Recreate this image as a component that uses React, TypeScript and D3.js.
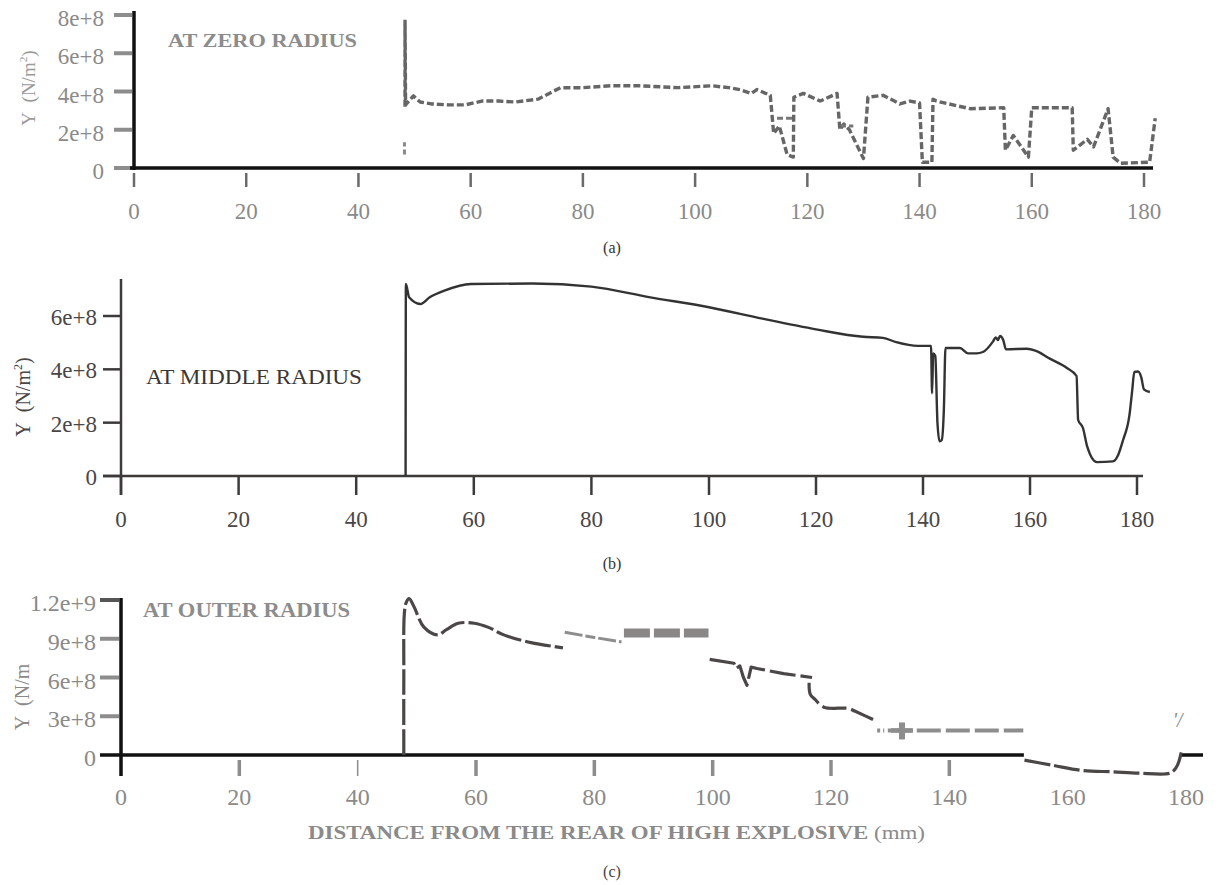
import React, { useRef, useEffect } from 'react';
import * as d3 from 'd3';

// distances along the charge (mm), shared tick values
const xTicks = [0, 20, 40, 60, 80, 100, 120, 140, 160, 180];

// (a) at zero radius - dashed trace
const zeroX = [48.3, 48.3, 48.4, 49.8, 51, 53, 56, 59, 62, 65, 68, 72, 74, 76, 80, 85, 90, 97, 103, 106, 108, 110, 111, 113.4,
  114, 115, 116.4, 117.5, 117.6, 119.3, 122.3, 125.3, 125.8, 126.5, 127.5, 130, 130.8, 133.5, 136.5, 138.3, 140,
  140.5, 142.2, 142.4, 143, 149, 155, 155.3, 156.7, 159.4, 160, 167.2, 167.4, 169.9, 171, 173.6, 174.5, 175.8, 181, 182];
const zeroY = [3.2e8, 7.75e8, 3.3e8, 3.77e8, 3.45e8, 3.35e8, 3.3e8, 3.3e8, 3.5e8, 3.5e8, 3.45e8, 3.6e8, 3.9e8, 4.2e8, 4.2e8, 4.3e8, 4.3e8, 4.2e8, 4.3e8, 4.2e8, 4.1e8, 3.9e8, 4.1e8, 3.8e8,
  1.8e8, 2.2e8, 0.7e8, 0.57e8, 3.7e8, 3.9e8, 3.5e8, 3.9e8, 2.0e8, 2.3e8, 2.0e8, 0.5e8, 3.7e8, 3.8e8, 3.35e8, 3.5e8, 3.4e8,
  0.3e8, 0.3e8, 3.6e8, 3.5e8, 3.1e8, 3.15e8, 0.93e8, 1.7e8, 0.57e8, 3.15e8, 3.15e8, 0.93e8, 1.5e8, 1.1e8, 3.1e8, 0.57e8, 0.25e8, 0.3e8, 2.6e8];
const zeroStrayX = [48.2, 48.2];
const zeroStrayY = [0.7e8, 1.35e8];
const zeroShelfX = [114.6, 117.5];
const zeroShelfY = [2.6e8, 2.6e8];
const zeroShelf2X = [126.0, 128.2];
const zeroShelf2Y = [2.2e8, 2.2e8];
const zeroTicks = [0, 2e8, 4e8, 6e8, 8e8];
const zeroLabels = ['0', '2e+8', '4e+8', '6e+8', '8e+8'];

// (b) at middle radius - solid trace
const middleX = [48.4, 48.45, 49, 50.9, 52.5, 55, 59.5, 70, 80, 90, 100, 110, 120, 128.8, 132.5, 135, 139, 141.5,
  141.7, 141.9, 142.3, 142.7, 143.1, 143.5, 143.9, 144.2, 146.9, 148.4, 150, 151.2, 153.1, 153.6, 154, 154.4, 155, 155.5,
  159.4, 161, 163.7, 166.9, 168.7, 169, 169.9, 170.7, 172.5, 175.5, 176.5, 177.4, 178.6, 179.1, 179.5, 180.2, 180.8, 181.3, 182.4];
const middleY = [0, 7.2e8, 6.7e8, 6.45e8, 6.7e8, 6.95e8, 7.2e8, 7.22e8, 7.1e8, 6.7e8, 6.33e8, 5.9e8, 5.5e8, 5.22e8, 5.18e8, 5.02e8, 4.88e8, 4.88e8,
  3.1e8, 4.6e8, 4.5e8, 2.0e8, 1.3e8, 1.35e8, 2.5e8, 4.8e8, 4.8e8, 4.6e8, 4.6e8, 4.65e8, 5.05e8, 5.2e8, 5.1e8, 5.25e8, 5.1e8, 4.75e8,
  4.77e8, 4.7e8, 4.4e8, 4.05e8, 3.75e8, 2.1e8, 1.8e8, 1.1e8, 0.52e8, 0.55e8, 0.8e8, 1.35e8, 2.3e8, 3.2e8, 3.9e8, 3.92e8, 3.7e8, 3.25e8, 3.15e8];
const middleTicks = [0, 2e8, 4e8, 6e8];
const middleLabels = ['0', '2e+8', '4e+8', '6e+8'];

// (c) at outer radius - broken trace in several pieces
const outerRiseX = [47.8, 47.8, 47.9, 48.2, 48.7, 49.5, 51.2, 53.5, 55, 57, 59.7, 62, 64.7, 69.3, 74.7];
const outerRiseY = [0, 0.6e9, 1.1e9, 1.18e9, 1.21e9, 1.15e9, 0.99e9, 0.93e9, 0.97e9, 1.02e9, 1.02e9, 0.99e9, 0.93e9, 0.87e9, 0.83e9];
const outerGreyX = [75, 80, 84.6];
const outerGreyY = [0.95e9, 0.91e9, 0.875e9];
const outerBlockX = [85, 99.3];
const outerBlockY = [0.945e9, 0.945e9];
const outerMidX = [99.5, 103.6, 104, 104.6, 105.2, 105.8, 106.5, 107.5, 112, 116.8];
const outerMidY = [0.74e9, 0.71e9, 0.67e9, 0.69e9, 0.6e9, 0.54e9, 0.68e9, 0.67e9, 0.63e9, 0.6e9];
const outerStepX = [116.3, 116.5, 117.3, 118.8, 123, 124, 127.8];
const outerStepY = [0.56e9, 0.47e9, 0.43e9, 0.37e9, 0.36e9, 0.34e9, 0.26e9];
const outerStubX = [127.8, 129.0];
const outerStubY = [0.19e9, 0.19e9];
const outerFlatX = [129.6, 152.5];
const outerFlatY = [0.19e9, 0.19e9];
const outerTailX = [152.7, 157.5, 162.5, 167.6, 172, 177.3, 178.3, 178.8, 179.2];
const outerTailY = [-0.04e9, -0.08e9, -0.12e9, -0.13e9, -0.14e9, -0.14e9, -0.1e9, -0.05e9, 0.02e9];
const outerTicks = [0, 3e8, 6e8, 9e8, 1.2e9];
const outerLabels = ['0', '3e+8', '6e+8', '9e+8', '1.2e+9'];

const serif = '"Liberation Serif", "Times New Roman", serif';

function App() {
  const ref = useRef<SVGSVGElement>(null);

  useEffect(() => {
    draw();
  }, []);

  function draw() {
    const svg = d3.select(ref.current);
    svg.selectAll('*').remove();

    svg.append('rect').attr('width', 1221).attr('height', 885).attr('fill', '#fff');

    const line = (g, xs, ys, x, y, stroke, width, dash, curve = d3.curveLinear) => {
      const pts = xs.map((d, i) => [d, ys[i]]);
      return g.append('path')
        .datum(pts)
        .attr('d', d3.line().curve(curve).x(d => x(d[0])).y(d => y(d[1])))
        .attr('fill', 'none')
        .attr('stroke', stroke)
        .attr('stroke-width', width)
        .attr('stroke-dasharray', dash)
        .attr('stroke-linejoin', 'round');
    };

    const text = (g, x, y, s, size, fill, anchor = 'start') =>
      g.append('text')
        .attr('x', x).attr('y', y)
        .attr('font-family', serif)
        .attr('font-size', size)
        .attr('fill', fill)
        .attr('text-anchor', anchor)
        .text(s);

    const yTitle = (g, cx, cy, size, fill, full) => {
      const t = g.append('text')
        .attr('transform', `translate(${cx},${cy}) rotate(-90)`)
        .attr('text-anchor', 'middle')
        .attr('font-family', serif)
        .attr('font-size', size)
        .attr('fill', fill);
      t.append('tspan').text('Y\u00a0\u00a0(N/m');
      if (full) {
        t.append('tspan').attr('font-size', size * 0.6).attr('dy', -size * 0.4).text('2');
        t.append('tspan').attr('dy', size * 0.4).text(')');
      }
    };

    // ---------- (a) zero radius ----------
    const xA = d3.scaleLinear([0, 180], [134, 1144]);
    const yA = d3.scaleLinear([0, 8e8], [168, 15]);
    const a = svg.append('g');

    a.selectAll('.ytick').data(zeroTicks).join('line')
      .attr('x1', 114).attr('x2', 132)
      .attr('y1', d => yA(d)).attr('y2', d => yA(d))
      .attr('stroke', '#8d8d8d').attr('stroke-width', 4);
    a.selectAll('.ylab').data(zeroTicks).join('text')
      .attr('x', 104).attr('y', d => yA(d) + 11)
      .attr('text-anchor', 'end')
      .attr('font-family', serif).attr('font-size', 23).attr('fill', '#8a8a8a')
      .text((d, i) => zeroLabels[i]);
    a.selectAll('.xtick').data(xTicks).join('line')
      .attr('x1', d => xA(d)).attr('x2', d => xA(d))
      .attr('y1', 173).attr('y2', 187)
      .attr('stroke', '#6a6a6a').attr('stroke-width', 2.5);
    a.selectAll('.xlab').data(xTicks).join('text')
      .attr('x', d => xA(d)).attr('y', 219)
      .attr('text-anchor', 'middle')
      .attr('font-family', serif).attr('font-size', 23).attr('fill', '#8a8a8a')
      .text(d => d);
    a.append('line').attr('x1', 134).attr('x2', 134).attr('y1', 11).attr('y2', 170)
      .attr('stroke', '#111').attr('stroke-width', 3.5);
    a.append('line').attr('x1', 130).attr('x2', 1153).attr('y1', yA(0)).attr('y2', yA(0))
      .attr('stroke', '#111').attr('stroke-width', 3.5);

    line(a, zeroX, zeroY, xA, yA, '#666', 3.4, '7,3');
    line(a, zeroStrayX, zeroStrayY, xA, yA, '#8a8a8a', 3, '5,3');
    line(a, zeroShelfX, zeroShelfY, xA, yA, '#777', 3, '6,3');
    line(a, zeroShelf2X, zeroShelf2Y, xA, yA, '#777', 3, '5,3');

    text(a, 168, 47, 'AT ZERO RADIUS', 19, '#8c8c8c').attr('font-weight', 'bold')
      .attr('textLength', 189).attr('lengthAdjust', 'spacingAndGlyphs');
    yTitle(a, 35, 88, 19, '#9a9a9a', true);
    text(a, 612, 253, '(a)', 16, '#333', 'middle');

    // ---------- (b) middle radius ----------
    const xB = d3.scaleLinear([0, 100, 180], [121, 709, 1137]);
    const yB = d3.scaleLinear([0, 6e8], [476, 316]);
    const b = svg.append('g');
    const ink = '#3d3a3a';

    b.selectAll('.ytick').data(middleTicks).join('line')
      .attr('x1', 103).attr('x2', 121)
      .attr('y1', d => yB(d)).attr('y2', d => yB(d))
      .attr('stroke', ink).attr('stroke-width', 2.5);
    b.selectAll('.ylab').data(middleTicks).join('text')
      .attr('x', 97).attr('y', d => yB(d) + 9)
      .attr('text-anchor', 'end')
      .attr('font-family', serif).attr('font-size', 23).attr('fill', '#4a4646')
      .text((d, i) => middleLabels[i]);
    b.selectAll('.xtick').data(xTicks).join('line')
      .attr('x1', d => xB(d)).attr('x2', d => xB(d))
      .attr('y1', 476).attr('y2', 495)
      .attr('stroke', ink).attr('stroke-width', 2.5);
    b.selectAll('.xlab').data(xTicks).join('text')
      .attr('x', d => xB(d)).attr('y', 527)
      .attr('text-anchor', 'middle')
      .attr('font-family', serif).attr('font-size', 23).attr('fill', '#4a4646')
      .text(d => d);
    b.append('line').attr('x1', 121).attr('x2', 121).attr('y1', 279).attr('y2', 495)
      .attr('stroke', ink).attr('stroke-width', 2.5);
    b.append('line').attr('x1', 103).attr('x2', 1143).attr('y1', yB(0)).attr('y2', yB(0))
      .attr('stroke', ink).attr('stroke-width', 2.5);

    line(b, middleX, middleY, xB, yB, '#333', 2.4, null, d3.curveMonotoneX);

    text(b, 146, 384, 'AT MIDDLE RADIUS', 22, '#3a3636')
      .attr('textLength', 216).attr('lengthAdjust', 'spacingAndGlyphs');
    yTitle(b, 30, 397, 20, '#4a4646', true);
    text(b, 612, 569, '(b)', 16, '#333', 'middle');

    // ---------- (c) outer radius ----------
    const xC = d3.scaleLinear([0, 180], [121, 1186]);
    const yC = d3.scaleLinear([0, 1.2e9], [755, 600]);
    const c = svg.append('g');

    c.selectAll('.ytick').data(outerTicks.slice(1)).join('line')
      .attr('x1', 100).attr('x2', 119)
      .attr('y1', d => yC(d)).attr('y2', d => yC(d))
      .attr('stroke', d => (d === 1.2e9 ? '#555' : '#8d8d8d')).attr('stroke-width', 4);
    c.selectAll('.ylab').data(outerTicks).join('text')
      .attr('x', 96).attr('y', d => yC(d) + 11)
      .attr('text-anchor', 'end')
      .attr('font-family', serif).attr('font-size', 24).attr('fill', '#8a8a8a')
      .text((d, i) => outerLabels[i]);
    c.selectAll('.xtick').data(xTicks.filter(d => d > 0 && d < 160)).join('line')
      .attr('x1', d => xC(d)).attr('x2', d => xC(d))
      .attr('y1', 760).attr('y2', 776)
      .attr('stroke', '#8d8d8d').attr('stroke-width', d => (d === 40 ? 1.5 : 3.5));
    c.selectAll('.xlab').data(xTicks).join('text')
      .attr('x', d => xC(d)).attr('y', 805)
      .attr('text-anchor', 'middle')
      .attr('font-family', serif).attr('font-size', 24).attr('fill', '#8a8a8a')
      .text(d => d);
    c.append('line').attr('x1', 121).attr('x2', 121).attr('y1', 598).attr('y2', 776)
      .attr('stroke', '#111').attr('stroke-width', 3.5);
    // axis is hidden where the tail dips below zero
    c.append('line').attr('x1', 100).attr('x2', xC(152.6)).attr('y1', yC(0)).attr('y2', yC(0))
      .attr('stroke', '#111').attr('stroke-width', 3.5);
    c.append('line').attr('x1', xC(179.2)).attr('x2', 1203).attr('y1', yC(0)).attr('y2', yC(0))
      .attr('stroke', '#111').attr('stroke-width', 3.5);

    const dark = '#4b4747';
    line(c, outerRiseX, outerRiseY, xC, yC, dark, 3.2, '26,4', d3.curveCatmullRom.alpha(0.5));
    line(c, outerGreyX, outerGreyY, xC, yC, '#8d8d8d', 3, '18,3,10,3');
    line(c, outerBlockX, outerBlockY, xC, yC, '#8a8787', 9, '26,4');
    line(c, outerMidX, outerMidY, xC, yC, dark, 3.2, '26,5');
    line(c, outerStepX, outerStepY, xC, yC, dark, 3.2, '24,5', d3.curveCatmullRom.alpha(0.5));
    line(c, outerStubX, outerStubY, xC, yC, '#8d8d8d', 4, '3,3');
    line(c, outerFlatX, outerFlatY, xC, yC, '#8d8d8d', 4, '24,5');
    line(c, outerTailX, outerTailY, xC, yC, dark, 3.2, '26,4', d3.curveCatmullRom.alpha(0.5));

    // plus marker sitting on the flat grey piece
    const px = xC(132), py = yC(0.19e9);
    c.append('line').attr('x1', px - 11).attr('x2', px + 11).attr('y1', py).attr('y2', py)
      .attr('stroke', '#8d8d8d').attr('stroke-width', 4.5);
    c.append('line').attr('x1', px).attr('x2', px).attr('y1', py - 8).attr('y2', py + 9)
      .attr('stroke', '#8d8d8d').attr('stroke-width', 6);
    text(c, xC(178.6), 727, "'/", 20, '#8a8a8a', 'middle').attr('font-style', 'italic');

    text(c, 143, 617, 'AT OUTER RADIUS', 20, '#8c8c8c').attr('font-weight', 'bold')
      .attr('textLength', 207).attr('lengthAdjust', 'spacingAndGlyphs');
    yTitle(c, 29, 697, 20, '#8a8a8a', false);

    const title = c.append('text')
      .attr('x', 308).attr('y', 839)
      .attr('font-family', serif).attr('font-size', 19).attr('fill', '#8a8a8a')
      .attr('textLength', 617).attr('lengthAdjust', 'spacingAndGlyphs');
    title.append('tspan').attr('font-weight', 'bold').text('DISTANCE  FROM  THE  REAR  OF  HIGH  EXPLOSIVE ');
    title.append('tspan').text('(mm)');
    text(c, 612, 877, '(c)', 16, '#444', 'middle');
  }

  return (
    <svg ref={ref} width={1221} height={885}
      style={{ position: 'absolute', left: 0, top: 0, display: 'block' }} />
  );
}

export default App;
